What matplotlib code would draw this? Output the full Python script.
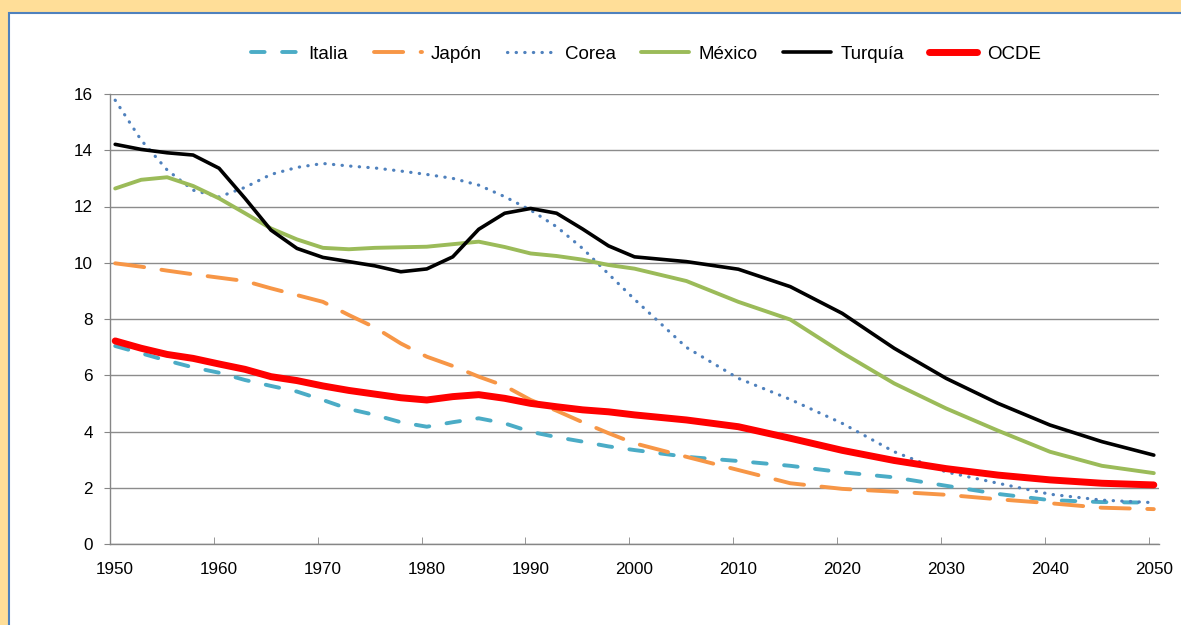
import matplotlib.pyplot as plt
from matplotlib.patches import Rectangle

plt.rcParams['font.family'] = ['Liberation Sans', 'DejaVu Sans']

# datos (cada 2,5 años hasta 2000, luego cada 5)
years = [1950, 1952.5, 1955, 1957.5, 1960, 1962.5, 1965, 1967.5, 1970, 1972.5,
         1975, 1977.5, 1980, 1982.5, 1985, 1987.5, 1990, 1992.5, 1995, 1997.5,
         2000, 2005, 2010, 2015, 2020, 2025, 2030, 2035, 2040, 2045, 2050]
italia = [7.04, 6.78, 6.52, 6.28, 6.09, 5.83, 5.62, 5.42, 5.12, 4.80,
          4.59, 4.33, 4.17, 4.33, 4.47, 4.29, 3.99, 3.80, 3.64, 3.47,
          3.34, 3.10, 2.95, 2.78, 2.55, 2.37, 2.07, 1.78, 1.56, 1.49, 1.47]
japon = [9.98, 9.86, 9.72, 9.59, 9.47, 9.35, 9.09, 8.85, 8.61, 8.14,
         7.70, 7.13, 6.66, 6.33, 5.95, 5.62, 5.12, 4.74, 4.33, 3.94,
         3.58, 3.10, 2.63, 2.16, 1.96, 1.86, 1.75, 1.59, 1.45, 1.29, 1.24]
corea = [15.78, 14.36, 13.30, 12.58, 12.34, 12.68, 13.14, 13.39, 13.53, 13.44,
         13.37, 13.26, 13.14, 13.00, 12.76, 12.35, 11.87, 11.28, 10.51, 9.60,
         8.70, 6.99, 5.89, 5.14, 4.29, 3.28, 2.56, 2.16, 1.77, 1.56, 1.47]
mexico = [12.64, 12.95, 13.04, 12.73, 12.29, 11.76, 11.22, 10.83, 10.53, 10.48,
          10.53, 10.55, 10.57, 10.66, 10.75, 10.56, 10.33, 10.24, 10.11, 9.92,
          9.79, 9.35, 8.61, 7.98, 6.80, 5.71, 4.82, 4.03, 3.28, 2.78, 2.52]
turquia = [14.21, 14.03, 13.91, 13.83, 13.36, 12.29, 11.16, 10.51, 10.19, 10.04,
           9.89, 9.68, 9.78, 10.21, 11.19, 11.76, 11.93, 11.76, 11.20, 10.60,
           10.21, 10.04, 9.77, 9.15, 8.20, 6.96, 5.89, 5.00, 4.23, 3.64, 3.16]
ocde = [7.22, 6.96, 6.74, 6.60, 6.40, 6.21, 5.95, 5.81, 5.62, 5.46,
        5.33, 5.20, 5.12, 5.24, 5.31, 5.18, 5.00, 4.88, 4.77, 4.70,
        4.59, 4.41, 4.17, 3.76, 3.33, 2.97, 2.68, 2.45, 2.28, 2.16, 2.10]

decades = list(range(1950, 2051, 10))

fig = plt.figure(figsize=(11.81, 6.25), dpi=100, facecolor='#FFDE98')
fig.patches.append(Rectangle((9 / 1181, -0.1), 1.2, 1 - 12.5 / 625 + 0.1,
                             transform=fig.transFigure, facecolor='white',
                             edgecolor='#4F81BD', lw=1.5, zorder=-1))

ax = fig.add_axes([110 / 1181, 81 / 625, 1049 / 1181, 450 / 625])

ax.plot(years, italia, color='#4BACC6', lw=2.8, ls=(0, (3.5, 4.5)),
        dash_capstyle='round', label='Italia')
ax.plot(years, japon, color='#F79646', lw=2.8, ls=(0, (7.5, 4.5)),
        dash_capstyle='round', label='Japón')
ax.plot(years, corea, color='#4F81BD', lw=2.3, ls=(0, (0.1, 2.6)),
        dash_capstyle='round', label='Corea')
ax.plot(years, mexico, color='#9BBB59', lw=2.8, solid_capstyle='round', label='México')
ax.plot(years, turquia, color='black', lw=2.6, solid_capstyle='round', label='Turquía')
ax.plot(years, ocde, color='#FF0000', lw=5, solid_capstyle='round', label='OCDE')

ax.set_xlim(1949.5, 2050.5)
ax.set_ylim(0, 16)
ax.set_yticks(range(0, 17, 2))
ax.set_xticks(decades)
ax.set_xticks([d + 9.5 for d in decades[:-1]], minor=True)
ax.tick_params(axis='x', which='major', length=0, pad=13, labelsize=12.3)
ax.tick_params(axis='x', which='minor', direction='in', length=5, color='#868686')
ax.tick_params(axis='y', direction='out', length=4.3, pad=8, color='#868686',
               labelsize=12.3)
ax.grid(axis='y', color='#8C8C8C', lw=1)
ax.set_axisbelow(True)
for s in ['top', 'right']:
    ax.spines[s].set_visible(False)
for s in ['left', 'bottom']:
    ax.spines[s].set_color('#868686')
    ax.spines[s].set_linewidth(1)

fig.legend(loc='center', bbox_to_anchor=(646 / 1181, 1 - 54 / 625), ncol=6,
           frameon=False, fontsize=13.5, handlelength=2.56, handletextpad=0.5,
           columnspacing=1.35)

fig.savefig('out.png', dpi=100)
